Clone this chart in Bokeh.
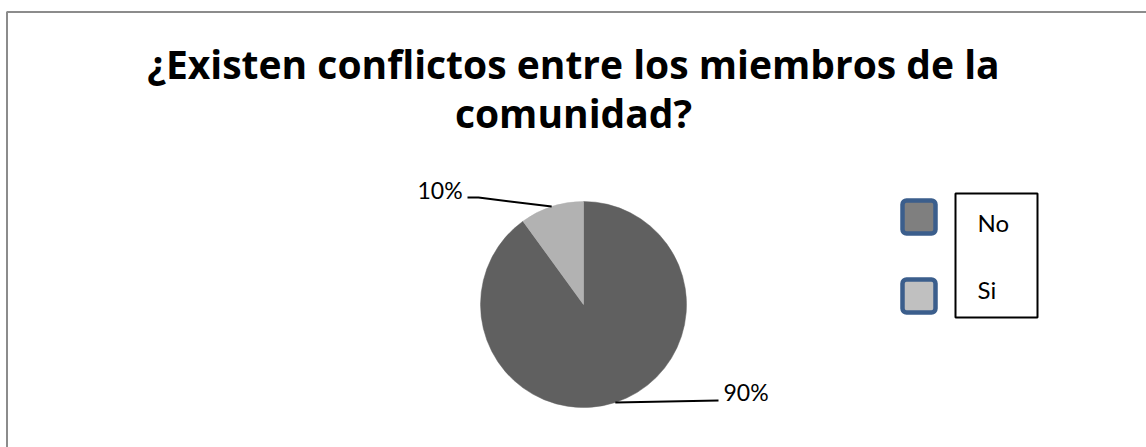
import math
from bokeh.plotting import figure
from bokeh.models import Range1d, ColumnDataSource
from bokeh.core.properties import value
from bokeh.embed import file_html
from bokeh.resources import INLINE

# ---- data ----
TITLE_LINES = ["¿Existen conflictos entre los miembros de la", "comunidad?"]
CATEGORIES = ["No", "Si"]
VALUES = [90, 10]
PCT_LABELS = ["90%", "10%"]

# ---- style / layout ----
PIE_COLORS = ["#606060", "#b2b2b2"]
LEGEND_COLORS = ["#7f7f7f", "#c0c0c0"]
MARKER_EDGE = "#3b5e8c"
FONT = "Lato"
TITLE_FONT = "Open Sans"

W, H = 1146, 447
# coordinates: x = screenshot pixel x, y = 447 - screenshot pixel y
def Y(py):
    return H - py

p = figure(width=W, height=H, output_backend="svg", toolbar_location=None,
           x_range=Range1d(0, W), y_range=Range1d(0, H), min_border=0)
p.xaxis.visible = False
p.yaxis.visible = False
p.grid.visible = False
p.outline_line_color = None
p.background_fill_color = "white"
p.border_fill_color = "white"

# chart-area border (top and left visible)
p.line(x=[6.5, 6.5, W], y=[0, Y(11.5), Y(11.5)], line_color="#8c8c8c", line_width=2)

# title
p.text(x=[573, 573], y=[Y(63), Y(112)], text=TITLE_LINES,
       text_font=value(TITLE_FONT), text_font_style="bold", text_font_size="39px",
       text_align="center", text_baseline="alphabetic", text_color="black")

# pie
CX, CY, R = 583, Y(304), 103
total = float(sum(VALUES))
starts, ends, mids = [], [], []
cum = 0.0
for v in VALUES:
    a0 = math.pi / 2 - 2 * math.pi * (cum + v) / total
    a1 = math.pi / 2 - 2 * math.pi * cum / total
    starts.append(a0)
    ends.append(a1)
    mids.append((a0 + a1) / 2)
    cum += v

src = ColumnDataSource(dict(start=starts, end=ends, color=PIE_COLORS, cat=CATEGORIES))
p.wedge(x=CX, y=CY, radius=R, start_angle="start", end_angle="end",
        fill_color="color", line_color="color", line_width=0.5, source=src)

# data labels with leader lines
edge_pts = [(CX + R * math.cos(m), CY + R * math.sin(m)) for m in mids]
# 90% label (No), placed to lower right
ex, ey = edge_pts[0]
p.line(x=[ex, 718], y=[ey, Y(400)], line_color="black", line_width=2)
p.text(x=[723], y=[Y(391)], text=[PCT_LABELS[0]], text_font=value(FONT),
       text_font_size="23px", text_baseline="alphabetic", text_color="black")
# 10% label (Si), placed to upper left
ex, ey = edge_pts[1]
p.line(x=[ex, 478, 467], y=[ey, Y(197), Y(197)], line_color="black", line_width=2)
p.text(x=[417], y=[Y(189)], text=[PCT_LABELS[1]], text_font=value(FONT),
       text_font_size="23px", text_baseline="alphabetic", text_color="black")

# legend
ROW0, ROW_STEP = 216.5, 79
marker_y = [Y(ROW0 + i * ROW_STEP) for i in range(len(CATEGORIES))]
p.rect(x=[918.5] * len(CATEGORIES), y=marker_y, width=33, height=33,
       fill_color=LEGEND_COLORS, line_color=MARKER_EDGE, line_width=4.5,
       border_radius=4)
p.rect(x=[996], y=[Y(255)], width=82, height=124, fill_color=None,
       line_color="black", line_width=2)
text_y = [Y(222), Y(289)]
p.text(x=[977] * len(CATEGORIES), y=text_y, text=CATEGORIES,
       text_font=value(FONT), text_font_size="24px",
       text_baseline="alphabetic", text_color="black")

open("out.html", "w").write(file_html(p, INLINE))
